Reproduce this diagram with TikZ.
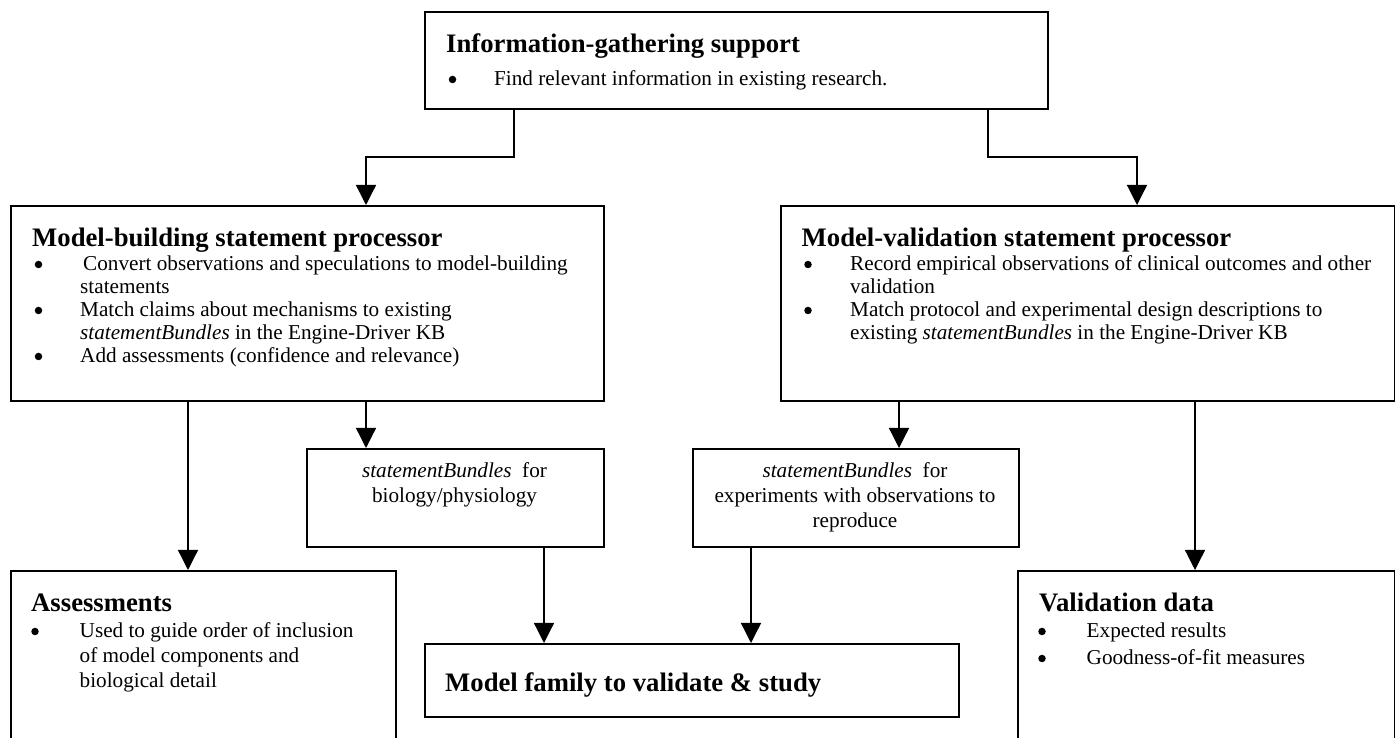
\documentclass[tikz,border=0pt]{standalone}
\usepackage{fontspec}
\setmainfont{Liberation Serif}
\usetikzlibrary{arrows.meta}
\begin{document}
\begin{tikzpicture}[x=1pt,y=1pt,
 box/.style={draw, line width=1.8pt, anchor=north west, inner sep=0pt},
 conn/.style={line width=1.3pt, -{Triangle[width=20pt,length=20pt]}},
 ttl/.style={anchor=base west, inner sep=0pt, font=\fontsize{26.7}{30}\selectfont\bfseries},
 txt/.style={anchor=base west, inner sep=0pt, font=\fontsize{21.2}{24}\selectfont},
 ctxt/.style={anchor=base, inner sep=0pt, font=\fontsize{21.2}{24}\selectfont},
 bul/.style={circle, fill, inner sep=0pt, minimum size=7.5pt},
]
\clip (0,0) rectangle (1395,738);
\fill[white] (0,0) rectangle (1395,738);

% boxes
\node[box, minimum width=623pt, minimum height=97pt] (top) at (424,727) {};
\node[box, minimum width=593pt, minimum height=195pt] (left) at (10,533) {};
\node[box, minimum width=614pt, minimum height=195pt] (right) at (780,533) {};
\node[box, minimum width=297pt, minimum height=98pt] (bio) at (306,290) {};
\node[box, minimum width=326pt, minimum height=98pt] (exp) at (692,290) {};
\node[box, minimum width=385pt, minimum height=190pt] (assess) at (10,168) {};
\node[box, minimum width=534pt, minimum height=73pt] (mf) at (424,95) {};
\node[box, minimum width=377pt, minimum height=190pt] (valid) at (1017,168) {};

% top box text
\node[ttl] (tt) at (446,685) {Information-gathering support};
\node[bul] (tb1) at (452.5,658.5) {};
\node[txt] (tl1) at (494,652) {Find relevant information in existing research.};

% left box text
\node[ttl] (lt) at (32,491) {Model-building statement processor};
\node[bul] (lb1) at (38.5,473.5) {};
\node[txt] (ll1) at (83,467) {Convert observations and speculations to model-building};
\node[txt] (ll2) at (80,444) {statements};
\node[bul] (lb2) at (38.5,427.5) {};
\node[txt] (ll3) at (80,421) {Match claims about mechanisms to existing};
\node[txt] (ll4) at (80,398) {\textit{statementBundles} in the Engine-Driver KB};
\node[bul] (lb3) at (38.5,381.5) {};
\node[txt] (ll5) at (80,375) {Add assessments (confidence and relevance)};

% right box text
\node[ttl] (rt) at (801.5,491) {Model-validation statement processor};
\node[bul] (rb1) at (808,473.5) {};
\node[txt] (rl1) at (850,467) {Record empirical observations of clinical outcomes and other};
\node[txt] (rl2) at (850,444) {validation};
\node[bul] (rb2) at (808,427.5) {};
\node[txt] (rl3) at (850,421) {Match protocol and experimental design descriptions to};
\node[txt] (rl4) at (850,398) {existing \textit{statementBundles} in the Engine-Driver KB};

% bio box text
\node[ctxt] (bl1) at (454.5,260) {\textit{statementBundles}\ \ for};
\node[ctxt] (bl2) at (454.5,235) {biology/physiology};

% exp box text
\node[ctxt] (el1) at (855,260) {\textit{statementBundles}\ \ for};
\node[ctxt] (el2) at (855,235) {experiments with observations to};
\node[ctxt] (el3) at (855,210) {reproduce};

% assessments text
\node[ttl] (at) at (31,126) {Assessments};
\node[bul] (ab1) at (35,106.5) {};
\node[txt] (al1) at (79.5,100) {Used to guide order of inclusion};
\node[txt] (al2) at (79.5,75) {of model components and};
\node[txt] (al3) at (79.5,50) {biological detail};

% validation text
\node[ttl] (vt) at (1039,126) {Validation data};
\node[bul] (vb1) at (1042,106.5) {};
\node[txt] (vl1) at (1086.5,100) {Expected results};
\node[bul] (vb2) at (1042,79.5) {};
\node[txt] (vl2) at (1086.5,73) {Goodness-of-fit measures};

% model family text
\node[ttl] (mt) at (445,46) {Model family to validate \& study};

% connectors
\coordinate (jl) at (366,581);
\coordinate (jr) at (1137,581);
\draw[conn] ([xshift=90pt]top.south west) |- (jl) -- (jl |- left.north);
\draw[conn] ([xshift=564pt]top.south west) |- (jr) -- (jr |- right.north);
\draw[conn] ([xshift=178pt]left.south west) -- ([xshift=178pt]assess.north west);
\draw[conn] ([xshift=356pt]left.south west) -- ([xshift=60pt]bio.north west);
\draw[conn] ([xshift=119pt]right.south west) -- ([xshift=207pt]exp.north west);
\draw[conn] ([xshift=415pt]right.south west) -- ([xshift=178pt]valid.north west);
\draw[conn] ([xshift=238pt]bio.south west) -- ([xshift=120pt]mf.north west);
\draw[conn] ([xshift=59pt]exp.south west) -- ([xshift=327pt]mf.north west);
\end{tikzpicture}
\end{document}
